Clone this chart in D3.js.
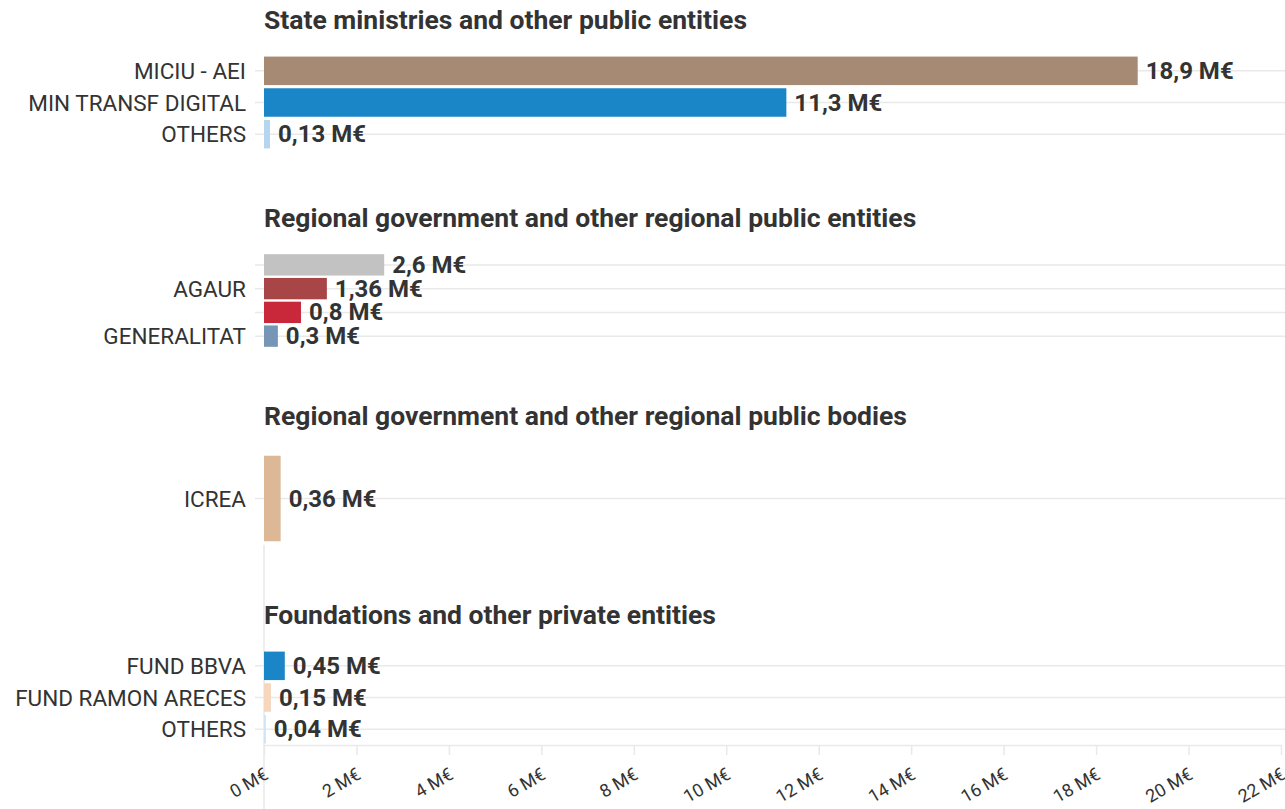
<!DOCTYPE html>
<html>
<head>
<meta charset="utf-8">
<script src="https://cdn.jsdelivr.net/npm/d3@7"></script>
<style>
  html, body { margin: 0; padding: 0; background: #fff; }
  svg { display: block; font-family: Roboto, "Noto Sans", sans-serif; }
</style>
</head>
<body>
<svg id="chart" width="1285" height="809"></svg>
<script>
// ---- DATA ----
const panelTitles = [
  "State ministries and other public entities",
  "Regional government and other regional public entities",
  "Regional government and other regional public bodies",
  "Foundations and other private entities"
];

const stateLabels = ["MICIU - AEI", "MIN TRANSF DIGITAL", "OTHERS"];
const stateValues = [18.9, 11.3, 0.13];
const stateColors = ["#a68a73", "#1b86c7", "#b5d6ee"];

const regionalLabels = ["", "AGAUR", "", "GENERALITAT"];
const regionalValues = [2.6, 1.36, 0.8, 0.3];
const regionalColors = ["#c2c2c2", "#a84647", "#c8283a", "#7596b5"];

const bodiesLabels = ["ICREA"];
const bodiesValues = [0.36];
const bodiesColors = ["#dcb896"];

const privateLabels = ["FUND BBVA", "FUND RAMON ARECES", "OTHERS"];
const privateValues = [0.45, 0.15, 0.04];
const privateColors = ["#1b86c7", "#f6d6bc", "#cfe4f4"];

const xTicks = [0, 2, 4, 6, 8, 10, 12, 14, 16, 18, 20, 22];
const xDomain = [0, 22];

// ---- LAYOUT ----
const panels = [
  { labels: stateLabels, values: stateValues, colors: stateColors },
  { labels: regionalLabels, values: regionalValues, colors: regionalColors },
  { labels: bodiesLabels, values: bodiesValues, colors: bodiesColors },
  { labels: privateLabels, values: privateValues, colors: privateColors }
];
const panelTops = [55, 253, 451, 650];
const panelHeight = 95;
const x0 = 264, x1 = 1281;

const svg = d3.select("#chart");
const x = d3.scaleLinear().domain(xDomain).range([x0, x1]);
const fmt = v => String(v).replace(".", ",") + " M€";
const textColor = "#333333";
const gridColor = "#e9e9e9";

// vertical baseline near bottom
svg.append("line")
  .attr("x1", x0).attr("x2", x0)
  .attr("y1", 545).attr("y2", 809)
  .attr("stroke", gridColor).attr("stroke-width", 1.5);

panels.forEach((p, i) => {
  const top = panelTops[i];
  const idx = p.values.map((_, k) => k);
  const y = d3.scaleBand().domain(idx).range([top, top + panelHeight])
    .paddingInner(0.1).paddingOuter(0.05);
  const g = svg.append("g");

  g.append("text")
    .attr("x", x0).attr("y", top - 36)
    .attr("dominant-baseline", "central")
    .attr("font-size", 26.5).attr("font-weight", 700)
    .attr("fill", textColor)
    .text(panelTitles[i]);

  // gridlines
  g.selectAll("line.grid").data(idx).join("line")
    .attr("class", "grid")
    .attr("x1", x0 - 9).attr("x2", 1285)
    .attr("y1", k => y(k) + y.bandwidth() / 2)
    .attr("y2", k => y(k) + y.bandwidth() / 2)
    .attr("stroke", gridColor).attr("stroke-width", 1.5);

  // bars
  g.selectAll("rect").data(idx).join("rect")
    .attr("x", x(0))
    .attr("y", k => y(k))
    .attr("width", k => Math.max(x(p.values[k]) - x(0), 0))
    .attr("height", y.bandwidth())
    .attr("fill", k => p.colors[k]);

  // category labels
  g.selectAll("text.cat").data(idx).join("text")
    .attr("class", "cat")
    .attr("x", 246)
    .attr("y", k => y(k) + y.bandwidth() / 2)
    .attr("dominant-baseline", "central")
    .attr("text-anchor", "end")
    .attr("font-size", 22.5)
    .attr("fill", textColor)
    .text(k => p.labels[k]);

  // value labels
  g.selectAll("text.val").data(idx).join("text")
    .attr("class", "val")
    .attr("x", k => x(p.values[k]) + 8)
    .attr("y", k => y(k) + y.bandwidth() / 2)
    .attr("dominant-baseline", "central")
    .attr("font-size", 24).attr("font-weight", 700)
    .attr("fill", textColor)
    .text(k => fmt(p.values[k]));
});

// bottom axis
const axisY = panelTops[3] + panelHeight;
const axis = svg.append("g").attr("transform", `translate(0,${axisY})`)
  .call(d3.axisBottom(x).tickValues(xTicks).tickSize(10).tickSizeOuter(0)
    .tickFormat(d => d + " M€"));
axis.select(".domain").attr("stroke", gridColor).attr("stroke-width", 1.5);
axis.selectAll(".tick line").attr("stroke", gridColor).attr("stroke-width", 1.5);
axis.selectAll(".tick text")
  .attr("font-size", 18)
  .attr("font-family", "Roboto, sans-serif")
  .attr("fill", textColor)
  .attr("text-anchor", "end")
  .attr("y", 0).attr("dy", 0)
  .attr("transform", "translate(5,33) rotate(-30)");
</script>
</body>
</html>
